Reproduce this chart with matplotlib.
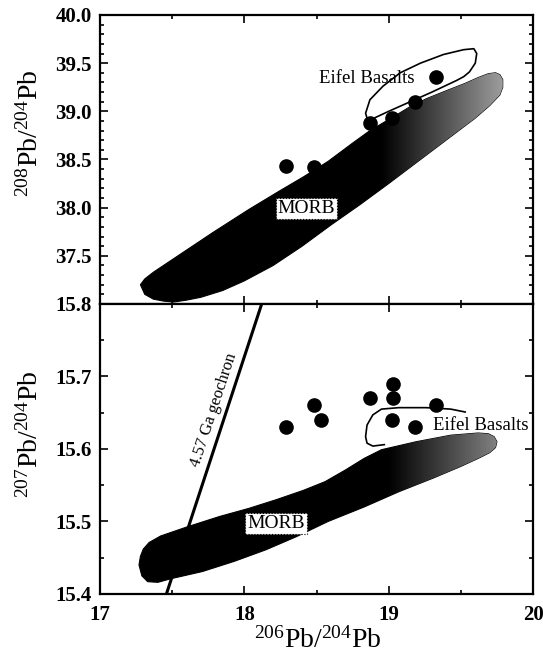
import matplotlib
matplotlib.use("Agg")
import numpy as np
from matplotlib import pyplot as plt
from matplotlib.patches import Polygon
from matplotlib.colors import LinearSegmentedColormap
from matplotlib.ticker import MultipleLocator, FormatStrFormatter

plt.rcParams["font.family"] = ["Liberation Serif", "DejaVu Serif"]
plt.rcParams["mathtext.fontset"] = "custom"
plt.rcParams["mathtext.rm"] = "Liberation Serif"
plt.rcParams["mathtext.it"] = "Liberation Serif:italic"
plt.rcParams["mathtext.bf"] = "Liberation Serif:bold"

# Eifel basalt samples
top_pb206 = [18.29, 18.48, 18.87, 19.02, 19.18, 19.33]
top_pb208 = [38.43, 38.42, 38.88, 38.93, 39.10, 39.36]

bot_pb206 = [18.29, 18.48, 18.53, 18.87, 19.03, 19.03, 19.02, 19.18, 19.33]
bot_pb207 = [15.63, 15.66, 15.64, 15.67, 15.69, 15.67, 15.64, 15.63, 15.66]

# MORB field outline (208 vs 206)
morb_top_x = [17.28, 17.31, 17.37, 17.46, 17.54, 17.78, 18.03, 18.24, 18.41,
              18.58, 18.75, 18.87, 18.95, 19.04, 19.14, 19.26, 19.41, 19.53,
              19.62, 19.69, 19.74, 19.77, 19.79, 19.79, 19.77, 19.70, 19.60,
              19.45, 19.30, 19.15, 19.00, 18.80, 18.60, 18.40, 18.20, 18.00,
              17.85, 17.70, 17.60, 17.51, 17.44, 17.37, 17.31]
morb_top_y = [37.20, 37.26, 37.33, 37.42, 37.50, 37.74, 37.98, 38.17, 38.32,
              38.48, 38.67, 38.80, 38.87, 38.95, 39.04, 39.13, 39.22, 39.29,
              39.35, 39.39, 39.40, 39.38, 39.33, 39.25, 39.17, 39.06, 38.93,
              38.76, 38.59, 38.42, 38.25, 38.03, 37.82, 37.60, 37.40, 37.24,
              37.14, 37.07, 37.04, 37.02, 37.03, 37.05, 37.10]

# MORB field outline (207 vs 206)
morb_bot_x = [17.27, 17.28, 17.30, 17.34, 17.42, 17.61, 17.83, 18.03, 18.22,
              18.41, 18.56, 18.70, 18.83, 18.95, 19.19, 19.43, 19.62, 19.69,
              19.73, 19.75, 19.74, 19.70, 19.62, 19.50, 19.31, 19.07, 18.83,
              18.58, 18.36, 18.15, 17.93, 17.71, 17.49, 17.40, 17.33, 17.29]
morb_bot_y = [15.440, 15.452, 15.462, 15.471, 15.480, 15.493, 15.507, 15.518,
              15.530, 15.543, 15.555, 15.571, 15.587, 15.599, 15.610, 15.619,
              15.622, 15.621, 15.617, 15.610, 15.602, 15.595, 15.587, 15.576,
              15.560, 15.541, 15.520, 15.500, 15.479, 15.461, 15.445, 15.431,
              15.421, 15.416, 15.417, 15.425]

# Eifel field outlines
eifel_top_x = [18.86, 18.84, 18.87, 18.96, 19.08, 19.22, 19.38, 19.52, 19.59,
               19.61, 19.60, 19.56, 19.52, 19.47, 19.30, 19.15, 19.00, 18.90,
               18.86]
eifel_top_y = [38.88, 38.98, 39.12, 39.26, 39.40, 39.50, 39.59, 39.64, 39.65,
               39.60, 39.50, 39.41, 39.36, 39.32, 39.20, 39.10, 39.00, 38.93,
               38.88]
eifel_bot_x = [19.53, 19.43, 19.26, 19.07, 18.95, 18.89, 18.85, 18.84, 18.85,
               18.89, 18.97]
eifel_bot_y = [15.651, 15.655, 15.657, 15.657, 15.655, 15.647, 15.633, 15.617,
               15.608, 15.604, 15.606]

# 4.57 Ga geochron
geochron_x = [17.46, 18.12]
geochron_y = [15.40, 15.80]


def shade_field(ax, xs, ys, x_dark, x_light, light):
    poly = Polygon(np.column_stack([xs, ys]), closed=True, facecolor="none",
                   edgecolor="black", lw=0.8, zorder=2)
    ax.add_patch(poly)
    cmap = LinearSegmentedColormap.from_list("morb", ["black", (light, light, light)])
    gx = np.linspace(min(xs), max(xs), 300)
    grad = np.clip((gx - x_dark) / (x_light - x_dark), 0, 1)
    img = ax.imshow(grad[np.newaxis, :], extent=[min(xs), max(xs), min(ys), max(ys)],
                    cmap=cmap, vmin=0, vmax=1, aspect="auto", origin="lower",
                    interpolation="bilinear", zorder=2)
    img.set_clip_path(poly)


def style_axis(ax):
    ax.tick_params(which="both", direction="in", top=True, right=True,
                   labelsize=15, width=1.2)
    ax.tick_params(which="major", length=6)
    ax.tick_params(which="minor", length=3)
    ax.tick_params(axis="y", pad=6)
    ax.tick_params(axis="x", pad=8)
    for sp in ax.spines.values():
        sp.set_linewidth(1.6)


fig = plt.figure(figsize=(5.43, 6.63), dpi=100)
ax1 = fig.add_axes([0.1842, 0.5415, 0.7974, 0.4359])
ax2 = fig.add_axes([0.1842, 0.1041, 0.7974, 0.4374])

# top panel
ax1.plot(eifel_top_x, eifel_top_y, color="black", lw=1.2, zorder=1)
shade_field(ax1, morb_top_x, morb_top_y, 18.95, 19.8, 0.62)
ax1.plot(top_pb206, top_pb208, "o", color="black", ms=9.5, zorder=3)
ax1.text(18.85, 39.34, "Eifel Basalts", fontsize=13.5, ha="center", va="center", zorder=4)
ax1.text(18.43, 37.99, "MORB", fontsize=14, ha="center", va="center", zorder=4,
         bbox=dict(boxstyle="square,pad=0.1", fc="white", ec="black", lw=0.8, ls=":"))
ax1.set_xlim(17, 20)
ax1.set_ylim(37, 40)
ax1.set_yticks([37.5, 38.0, 38.5, 39.0, 39.5, 40.0])
ax1.yaxis.set_minor_locator(MultipleLocator(0.1))
ax1.xaxis.set_major_locator(MultipleLocator(1))
ax1.xaxis.set_minor_locator(MultipleLocator(0.5))
ax1.yaxis.set_major_formatter(FormatStrFormatter("%.1f"))
ax1.tick_params(labelbottom=False)
style_axis(ax1)
ax1.set_ylabel(r"$^{208}$Pb/$^{204}$Pb", fontsize=20)
ax1.yaxis.set_label_coords(-0.13, 0.59)

# bottom panel
ax2.plot(eifel_bot_x, eifel_bot_y, color="black", lw=1.2, zorder=1)
shade_field(ax2, morb_bot_x, morb_bot_y, 19.0, 19.75, 0.5)
ax2.plot(geochron_x, geochron_y, color="black", lw=2.2, zorder=2)
ax2.plot(bot_pb206, bot_pb207, "o", color="black", ms=9.5, zorder=3)
ax2.text(19.64, 15.633, "Eifel Basalts", fontsize=13.5, ha="center", va="center", zorder=4)
ax2.text(18.22, 15.497, "MORB", fontsize=14, ha="center", va="center", zorder=4,
         bbox=dict(boxstyle="square,pad=0.1", fc="white", ec="black", lw=0.8, ls=":"))
ax2.set_xlim(17, 20)
ax2.set_ylim(15.4, 15.8)
ax2.set_yticks([15.4, 15.5, 15.6, 15.7, 15.8])
ax2.yaxis.set_minor_locator(MultipleLocator(0.05))
ax2.xaxis.set_major_locator(MultipleLocator(1))
ax2.xaxis.set_minor_locator(MultipleLocator(0.5))
ax2.yaxis.set_major_formatter(FormatStrFormatter("%.1f"))
ax2.xaxis.set_major_formatter(FormatStrFormatter("%d"))
style_axis(ax2)
ax2.set_ylabel(r"$^{207}$Pb/$^{204}$Pb", fontsize=20)
ax2.yaxis.set_label_coords(-0.13, 0.55)
ax2.set_xlabel(r"$^{206}$Pb/$^{204}$Pb", fontsize=20)
ax2.xaxis.set_label_coords(0.503, -0.115)

# geochron label rotated along the line
p = ax2.transData.transform(np.column_stack([geochron_x, geochron_y]))
angle = np.degrees(np.arctan2(p[1, 1] - p[0, 1], p[1, 0] - p[0, 0]))
ax2.text(17.79, 15.654, "4.57 Ga geochron", fontsize=12, rotation=angle,
         rotation_mode="anchor", ha="center", va="center", zorder=4)

for ax in (ax1, ax2):
    for lbl in ax.get_xticklabels() + ax.get_yticklabels():
        lbl.set_fontweight("bold")

fig.savefig("out.png", dpi=100)
